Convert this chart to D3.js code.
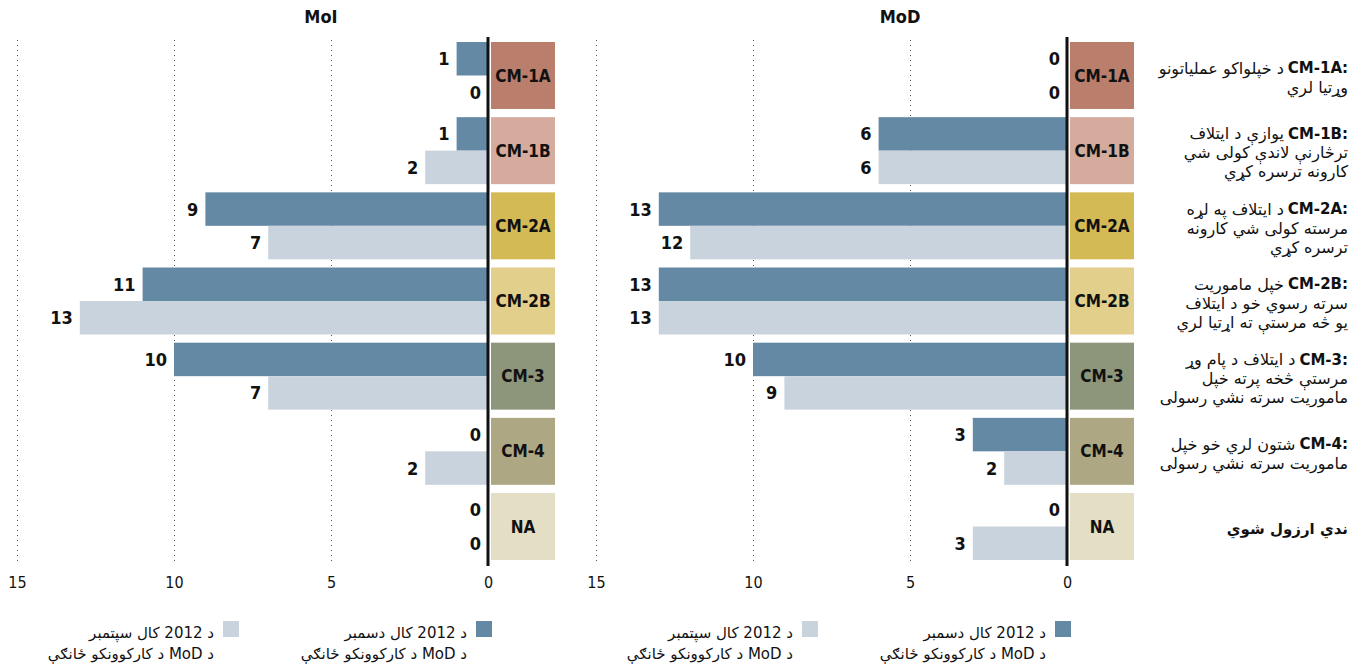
<!DOCTYPE html>
<html>
<head>
<meta charset="utf-8">
<script src="https://cdn.jsdelivr.net/npm/d3@7"></script>
<style>
  body { margin: 0; background: #fff; }
  svg { display: block; }
  .narrow { font-family: "Liberation Sans Narrow", "DejaVu Sans Condensed", "Roboto", sans-serif; }
  .ps { font-family: "DejaVu Sans", sans-serif; }
</style>
</head>
<body>
<svg id="chart" width="1365" height="664"></svg>
<script>
// Capability milestones (rows)
const categories = ["CM-1A", "CM-1B", "CM-2A", "CM-2B", "CM-3", "CM-4", "NA"];
const categoryColors = ["#b97e6c", "#d4ab9c", "#d4ba55", "#e2cf8b", "#8d967b", "#aea784", "#e4dec5"];

// Unit counts per ministry: December 2012 and September 2012
const moiDec = [1, 1, 9, 11, 10, 0, 0];
const moiSep = [0, 2, 7, 13, 7, 2, 0];
const modDec = [0, 6, 13, 13, 10, 3, 0];
const modSep = [0, 6, 12, 13, 9, 2, 3];

const panelTitles = ["MoI", "MoD"];
const tickValues = [15, 10, 5, 0];

const seriesColors = ["#6489a5", "#c9d3dd"];
const legendLines = [
  ["د 2012 کال دسمبر", "د MoD د کارکوونکو ځانګې"],
  ["د 2012 کال سپتمبر", "د MoD د کارکوونکو ځانګې"]
];

// Row descriptions
const descKeys = ["CM-1A", "CM-1B", "CM-2A", "CM-2B", "CM-3", "CM-4", ""];
const descLines = [
  ["د خپلواکو عملیاتونو", "وړتیا لري"],
  ["یوازې د ایتلاف", "ترڅارنې لاندې کولی شي", "کارونه ترسره کړي"],
  ["د ایتلاف په لړه", "مرسته کولی شي کارونه", "ترسره کړي"],
  ["خپل ماموریت", "سرته رسوي خو د ایتلاف", "یو څه مرستې ته اړتیا لري"],
  ["د ایتلاف د پام وړ", "مرستې څخه پرته خپل", "ماموریت سرته نشي رسولی"],
  ["شتون لري خو خپل", "ماموریت سرته نشي رسولی"],
  ["ندي ارزول شوي"]
];

const svg = d3.select("#chart");

const y = d3.scaleBand().domain(categories).range([42, 560]).paddingInner(0.109).paddingOuter(0);
const half = y.bandwidth() / 2;

const panels = [
  { title: panelTitles[0], zero: 488, dec: moiDec, sep: moiSep },
  { title: panelTitles[1], zero: 1067, dec: modDec, sep: modSep }
];

panels.forEach(p => {
  const x = d3.scaleLinear().domain([0, 15]).range([p.zero, p.zero - 471]);
  const g = svg.append("g");

  // dotted grid
  g.selectAll("line.grid").data(tickValues.filter(t => t > 0)).join("line")
    .attr("x1", d => Math.round(x(d)) + 0.5).attr("x2", d => Math.round(x(d)) + 0.5)
    .attr("y1", 40).attr("y2", 565)
    .attr("stroke", "#555").attr("stroke-width", 1).attr("stroke-dasharray", "1,4");

  // tick labels
  const axis = d3.axisBottom(x).tickValues(tickValues).tickSize(0).tickPadding(0);
  const ax = g.append("g").attr("transform", "translate(0,575)").call(axis);
  ax.select(".domain").remove();
  ax.selectAll("text").attr("class", "narrow").attr("font-size", 16).attr("fill", "#111")
    .attr("dy", "0.8em").attr("font-family", null);

  // title
  g.append("text").attr("class", "narrow").attr("x", p.zero - 167).attr("y", 23)
    .attr("text-anchor", "middle").attr("font-weight", "bold").attr("font-size", 18)
    .attr("fill", "#111").text(p.title);

  const rows = categories.map((c, i) => ({ c, i, dec: p.dec[i], sep: p.sep[i] }));

  // bars
  g.selectAll("rect.dec").data(rows).join("rect")
    .attr("x", d => x(d.dec)).attr("y", d => y(d.c))
    .attr("width", d => x(0) - x(d.dec)).attr("height", half)
    .attr("fill", seriesColors[0]);
  g.selectAll("rect.sep").data(rows).join("rect")
    .attr("x", d => x(d.sep)).attr("y", d => y(d.c) + half)
    .attr("width", d => x(0) - x(d.sep)).attr("height", half)
    .attr("fill", seriesColors[1]);

  // value labels
  const vl = (key, off) => g.selectAll("text.v" + key).data(rows).join("text")
    .attr("class", "narrow")
    .attr("x", d => x(d[key]) - 7).attr("y", d => y(d.c) + off + half / 2)
    .attr("dy", "0.36em").attr("text-anchor", "end")
    .attr("font-weight", "bold").attr("font-size", 18).attr("fill", "#111")
    .text(d => d[key]);
  vl("dec", 0);
  vl("sep", half);

  // category boxes
  g.selectAll("rect.cat").data(rows).join("rect")
    .attr("x", p.zero + 3).attr("y", d => y(d.c))
    .attr("width", 64).attr("height", y.bandwidth())
    .attr("fill", d => categoryColors[d.i]);
  g.selectAll("text.cat").data(rows).join("text")
    .attr("class", "narrow")
    .attr("x", p.zero + 35).attr("y", d => y(d.c) + half)
    .attr("dy", "0.36em").attr("text-anchor", "middle")
    .attr("font-weight", "bold").attr("font-size", 17).attr("fill", "#111")
    .text(d => d.c);

  // zero axis line
  g.append("line").attr("x1", p.zero).attr("x2", p.zero).attr("y1", 37).attr("y2", 566)
    .attr("stroke", "#111").attr("stroke-width", 3);

  // legend
  const legendX = [p.zero, p.zero - 253];
  legendX.forEach((lx, k) => {
    g.append("rect").attr("x", lx - 12).attr("y", 621).attr("width", 16).attr("height", 16)
      .attr("fill", seriesColors[k]);
    legendLines[k].forEach((t, j) => {
      g.append("text").attr("class", "ps")
        .attr("x", lx - 21).attr("y", 638 + j * 21)
        .attr("direction", "rtl").attr("text-anchor", "start")
        .attr("font-size", 15).attr("fill", "#111").text(t);
    });
  });
});

// row descriptions on the right: bold key "CM-x:" at the right edge, text flowing to its left
const rightX = 1348;
const lineH = 19;
categories.forEach((c, i) => {
  const lines = descLines[i];
  const cy = y(c) + half + 2;
  const y0 = cy - (lines.length - 1) * lineH / 2;
  let offset = 0;
  if (descKeys[i]) {
    const colon = svg.append("text").attr("class", "ps")
      .attr("x", rightX).attr("y", y0).attr("dy", "0.36em")
      .attr("text-anchor", "end").attr("font-weight", "bold").attr("font-size", 15)
      .attr("fill", "#111").text(":");
    const cw = colon.node().getComputedTextLength();
    const key = svg.append("text").attr("class", "ps")
      .attr("x", rightX - cw).attr("y", y0).attr("dy", "0.36em")
      .attr("text-anchor", "end").attr("font-weight", "bold").attr("font-size", 15)
      .attr("fill", "#111").text(descKeys[i]);
    offset = cw + key.node().getComputedTextLength() + 4;
  }
  const boldOnly = !descKeys[i];
  lines.forEach((t, j) => {
    svg.append("text").attr("class", "ps")
      .attr("x", rightX - (j === 0 ? offset : 0)).attr("y", y0 + j * lineH).attr("dy", "0.36em")
      .attr("direction", "rtl").attr("text-anchor", "start")
      .attr("font-weight", boldOnly ? "bold" : "normal")
      .attr("font-size", boldOnly ? 15 : 16).attr("fill", "#111").text(t);
  });
});
</script>
</body>
</html>
